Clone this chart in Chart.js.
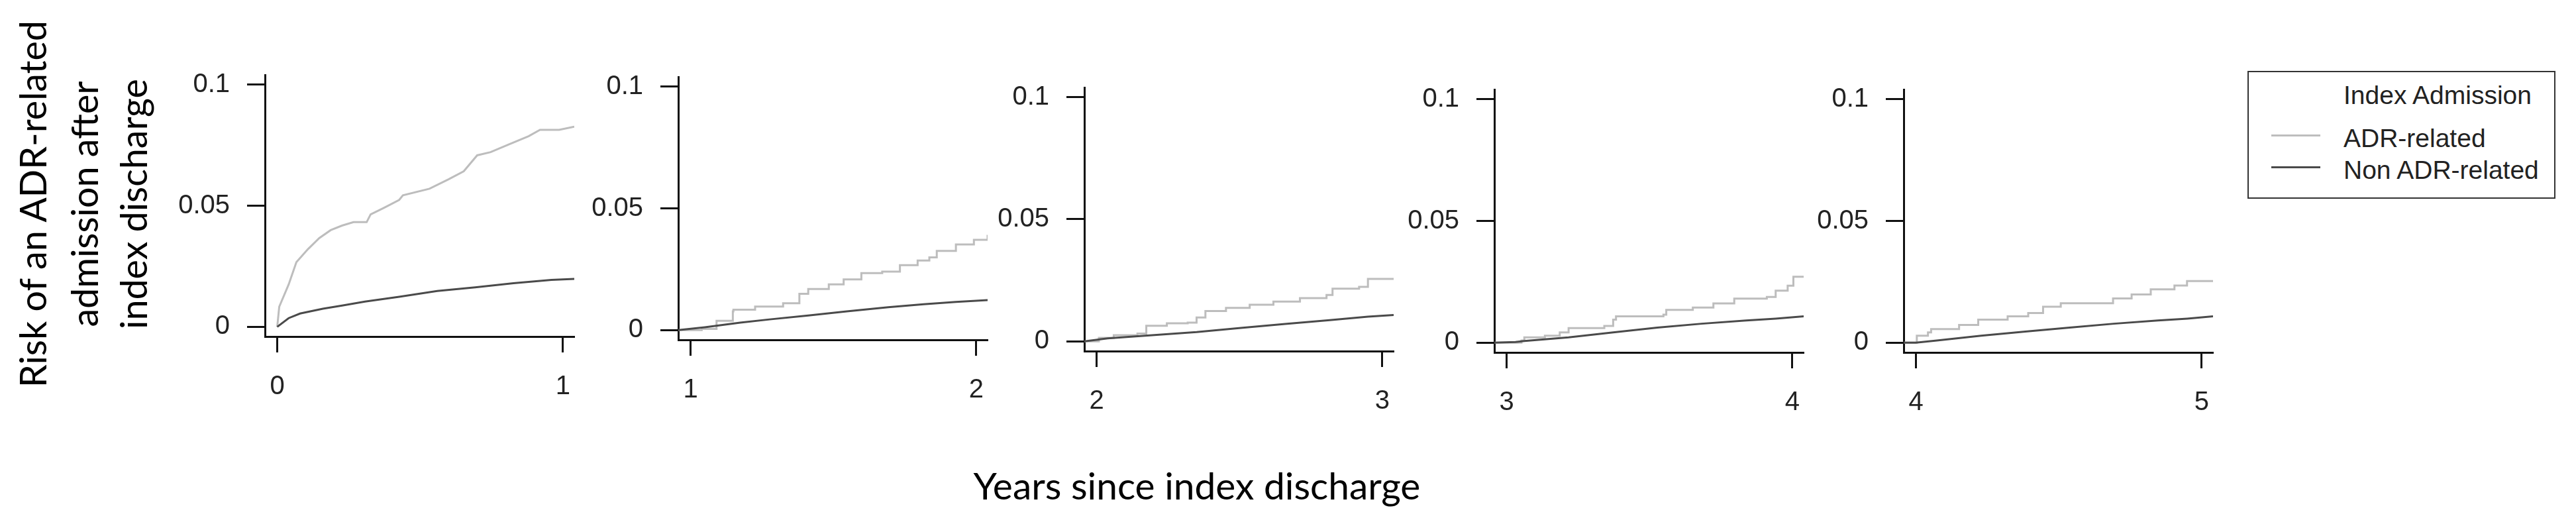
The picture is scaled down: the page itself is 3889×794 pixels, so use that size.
<!DOCTYPE html>
<html>
<head>
<meta charset="utf-8">
<title>Risk of an ADR-related admission</title>
<script src="https://cdn.jsdelivr.net/npm/chart.js@4.4.0/dist/chart.umd.min.js"></script>
<style>
  body { margin: 0; background: #fff; width: 3889px; height: 794px; position: relative; overflow: hidden; }
  canvas { position: absolute; }
  .txt { position: absolute; white-space: nowrap; line-height: 1; color: #111; }
</style>
</head>
<body>
<script>
var panelStarts = [0, 1, 2, 3, 4];
var xTickLabels = [['0', '1'], ['1', '2'], ['2', '3'], ['3', '4'], ['4', '5']];
var yTickValues = [0, 0.05, 0.1];
var yTickLabels = ['0', '0.05', '0.1'];
var seriesNames = ['ADR-related', 'Non ADR-related'];
var legendTitle = 'Index Admission';
var yTitleLines = ['Risk of an ADR-related', 'admission after', 'index discharge'];
var xTitle = 'Years since index discharge';

// ADR-related index admission, [years, risk]
var adr1 = [[0, 0], [0.007, 0.0083], [0.04, 0.0175], [0.067, 0.0267], [0.107, 0.032], [0.147, 0.0366],
  [0.187, 0.0399], [0.227, 0.0418], [0.267, 0.0432], [0.313, 0.0432], [0.327, 0.0464], [0.373, 0.0491],
  [0.427, 0.0524], [0.44, 0.0543], [0.533, 0.057], [0.6, 0.0609], [0.653, 0.0642], [0.7, 0.0708],
  [0.747, 0.0721], [0.813, 0.0754], [0.88, 0.0787], [0.92, 0.0813], [0.987, 0.0813], [1.04, 0.0826]];
var adr2 = [[0.957, 0], [1.039, 0.0005], [1.091, 0.0038], [1.148, 0.0077], [1.15, 0.0084], [1.226, 0.0097],
  [1.324, 0.011], [1.381, 0.0149], [1.412, 0.0169], [1.484, 0.0188], [1.536, 0.0208], [1.598, 0.0234],
  [1.671, 0.024], [1.733, 0.0267], [1.795, 0.0286], [1.836, 0.0299], [1.862, 0.0325], [1.929, 0.0352],
  [1.992, 0.0371], [2.04, 0.0391]];
var adr3 = [[1.957, 0], [2.008, 0.0014], [2.06, 0.0025], [2.143, 0.0032], [2.174, 0.0064], [2.246, 0.0074],
  [2.319, 0.0077], [2.35, 0.0098], [2.381, 0.0124], [2.453, 0.0137], [2.536, 0.015], [2.619, 0.0163],
  [2.712, 0.0177], [2.805, 0.019], [2.826, 0.0216], [2.919, 0.0223], [2.95, 0.0256], [3.04, 0.0256]];
var adr4 = [[2.957, 0], [3.052, 0.0009], [3.062, 0.0022], [3.134, 0.0029], [3.186, 0.0042], [3.217, 0.006],
  [3.342, 0.0069], [3.373, 0.0095], [3.383, 0.0108], [3.549, 0.0115], [3.559, 0.0135], [3.652, 0.0144],
  [3.724, 0.0161], [3.797, 0.0181], [3.911, 0.0188], [3.942, 0.0214], [3.984, 0.0234], [4.004, 0.0271],
  [4.04, 0.0271]];
var adr5 = [[3.957, 0], [4.003, 0.0029], [4.042, 0.0042], [4.053, 0.0056], [4.151, 0.0073], [4.218, 0.0095],
  [4.321, 0.0108], [4.393, 0.0122], [4.445, 0.0148], [4.507, 0.0162], [4.69, 0.0182], [4.755, 0.0198],
  [4.822, 0.0219], [4.905, 0.0235], [4.949, 0.0253], [5.04, 0.0253]];

// Non ADR-related index admission, [years, risk]
var nonAdr1 = [[0, 0], [0.04, 0.0036], [0.08, 0.0055], [0.16, 0.0075], [0.227, 0.0088], [0.307, 0.0104],
  [0.427, 0.0124], [0.56, 0.0148], [0.693, 0.0163], [0.827, 0.018], [0.96, 0.0194], [1.04, 0.0198]];
var nonAdr2 = [[0.957, 0], [1.05, 0.0012], [1.174, 0.0031], [1.277, 0.0044], [1.412, 0.006], [1.547, 0.0077],
  [1.692, 0.0094], [1.816, 0.0106], [1.929, 0.0116], [2.04, 0.0123]];
var nonAdr3 = [[1.957, 0], [2.039, 0.0012], [2.194, 0.0025], [2.35, 0.0038], [2.505, 0.0055], [2.66, 0.0071],
  [2.816, 0.0087], [2.95, 0.0101], [3.04, 0.0108]];
var nonAdr4 = [[2.957, 0], [3.031, 0.0003], [3.062, 0.0007], [3.217, 0.0022], [3.373, 0.0042], [3.528, 0.0062],
  [3.683, 0.0078], [3.839, 0.0091], [3.942, 0.0099], [4.04, 0.0108]];
var nonAdr5 = [[3.957, 0], [4.0, 0], [4.073, 0.0009], [4.228, 0.0029], [4.383, 0.0046], [4.538, 0.0062],
  [4.693, 0.0078], [4.847, 0.0091], [4.95, 0.0099], [5.04, 0.0108]];

var adrSeries = [adr1, adr2, adr3, adr4, adr5];
var nonAdrSeries = [nonAdr1, nonAdr2, nonAdr3, nonAdr4, nonAdr5];

var lightGrey = '#bdbdbd', darkGrey = '#4a4a4a', axisColor = '#111';
var tickFont = "'Liberation Sans', Arial, sans-serif";
var titleFont = "Lato, 'Open Sans', sans-serif";

// where each plot box sits on the page (left edge, top, x axis line)
var panelBoxes = [
  {left: 400, top: 93, bottom: 508},
  {left: 1024, top: 96, bottom: 513},
  {left: 1637, top: 112, bottom: 530},
  {left: 2256, top: 115, bottom: 532},
  {left: 2874, top: 115, bottom: 532}
];

function toPoints(pairs) {
  return pairs.map(function (p) { return {x: p[0], y: p[1]}; });
}

function fitFontSize(text, family, targetWidth) {
  var ctx = document.createElement('canvas').getContext('2d');
  ctx.font = '100px ' + family;
  return 100 * targetWidth / ctx.measureText(text).width;
}

function addText(text, left, top, css) {
  var el = document.createElement('div');
  el.className = 'txt';
  el.textContent = text;
  el.style.left = left + 'px';
  el.style.top = top + 'px';
  for (var k in css) el.style[k] = css[k];
  document.body.appendChild(el);
  return el;
}

window.onload = function () {
  var plotWidth = 467, axisWidth = 150, axisHeight = 110, padTop = 30, padRight = 30;

  panelBoxes.forEach(function (box, i) {
    var start = panelStarts[i];
    var canvas = document.createElement('canvas');
    canvas.width = axisWidth + plotWidth + padRight;
    canvas.height = padTop + (box.bottom - box.top) + axisHeight;
    canvas.style.left = (box.left - axisWidth) + 'px';
    canvas.style.top = (box.top - padTop) + 'px';
    document.body.appendChild(canvas);

    new Chart(canvas, {
      type: 'line',
      data: {
        datasets: [{
          label: seriesNames[1],
          data: toPoints(nonAdrSeries[i]),
          borderColor: darkGrey,
          borderWidth: 3,
          pointRadius: 0,
          tension: 0
        }, {
          label: seriesNames[0],
          data: toPoints(adrSeries[i]),
          borderColor: lightGrey,
          borderWidth: 3,
          pointRadius: 0,
          tension: 0,
          stepped: i > 0
        }]
      },
      options: {
        responsive: false,
        animation: false,
        devicePixelRatio: 1,
        layout: {padding: {top: padTop, right: padRight, left: 0, bottom: 0}},
        plugins: {legend: {display: false}, tooltip: {enabled: false}},
        scales: {
          x: {
            type: 'linear',
            min: start - 0.043,
            max: start + 1.04,
            border: {display: true, color: axisColor, width: 3},
            grid: {drawOnChartArea: false, drawTicks: true, tickLength: 24, tickWidth: 3, tickColor: axisColor},
            ticks: {
              font: {family: tickFont, size: 40},
              color: '#222',
              padding: 28,
              maxRotation: 0,
              autoSkip: false,
              callback: function (value, index) { return xTickLabels[i][index]; }
            },
            afterBuildTicks: function (scale) {
              scale.ticks = [start, start + 1].map(function (v) { return {value: v}; });
            },
            afterFit: function (scale) { scale.height = axisHeight; }
          },
          y: {
            min: -0.004,
            max: 0.104,
            border: {display: true, color: axisColor, width: 3},
            grid: {drawOnChartArea: false, drawTicks: true, tickLength: 27, tickWidth: 3, tickColor: axisColor},
            ticks: {
              font: {family: tickFont, size: 40},
              color: '#222',
              padding: 26,
              autoSkip: false,
              callback: function (value, index) { return yTickLabels[index]; }
            },
            afterBuildTicks: function (scale) {
              scale.ticks = yTickValues.map(function (v) { return {value: v}; });
            },
            afterFit: function (scale) { scale.width = axisWidth; }
          }
        }
      }
    });
  });

  // y axis title, three rotated lines
  var ySize = fitFontSize(yTitleLines[0], titleFont, 557);
  var yCentres = [49, 127, 201];
  yTitleLines.forEach(function (line, k) {
    addText(line, yCentres[k], 308, {
      fontFamily: titleFont, fontSize: ySize + 'px', color: '#000',
      transform: 'translate(-50%, -50%) rotate(-90deg)'
    });
  });

  // x axis title
  var xSize = fitFontSize(xTitle, titleFont, 675);
  addText(xTitle, 1807, 732, {
    fontFamily: titleFont, fontSize: xSize + 'px', color: '#000',
    transform: 'translate(-50%, -50%)'
  });

  // legend box
  var box = document.createElement('div');
  box.style.cssText = 'position:absolute;left:3393px;top:107px;width:465px;height:193px;' +
    'border:2px solid #333;box-sizing:border-box;';
  document.body.appendChild(box);
  var legendFont = {fontFamily: tickFont, fontSize: '39px', color: '#222', transform: 'translateY(-50%)'};
  addText(legendTitle, 3538, 143, legendFont);
  var rows = [{y: 206, text: seriesNames[0], color: lightGrey}, {y: 254, text: seriesNames[1], color: darkGrey}];
  rows.forEach(function (row) {
    var swatch = document.createElement('div');
    swatch.style.cssText = 'position:absolute;left:3429px;width:74px;height:3px;background:' + row.color +
      ';top:' + (row.y - 3) + 'px;';
    document.body.appendChild(swatch);
    addText(row.text, 3538, row.y + 2, legendFont);
  });
};
</script>
</body>
</html>
